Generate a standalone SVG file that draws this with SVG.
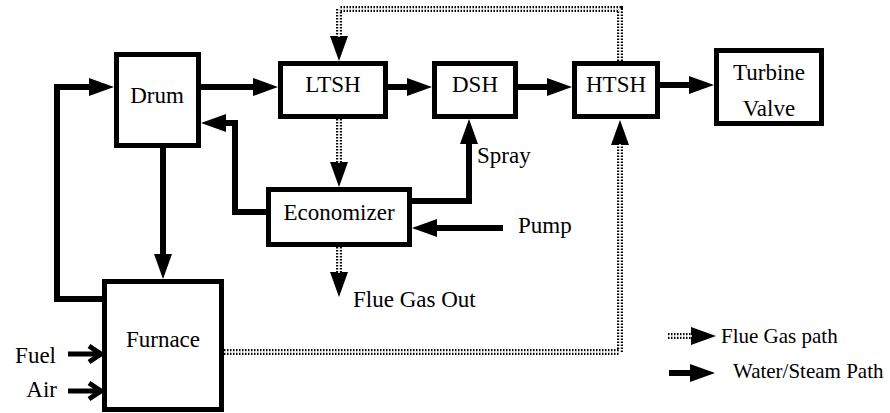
<svg xmlns="http://www.w3.org/2000/svg" width="890" height="413" viewBox="0 0 890 413">
<style>
.box{fill:#fff;stroke:#000;stroke-width:5}
.t{font-family:"Liberation Serif","Times New Roman",serif;font-size:23px;fill:#000}
.lg{font-family:"Liberation Serif","Times New Roman",serif;font-size:21px;fill:#000}
.w{fill:none;stroke:#000;stroke-width:6;marker-end:url(#ah)}
.g{fill:none;stroke:#000;stroke-width:6;stroke-dasharray:1.5 1.5;marker-end:url(#ah)}
.gc{fill:none;stroke:#fff;stroke-width:1.6}
.open{fill:none;stroke:#000;stroke-width:5}
</style>
<defs>
<marker id="ah" markerUnits="userSpaceOnUse" viewBox="0 0 25 18" refX="1" refY="9" markerWidth="25" markerHeight="18" orient="auto">
<path d="M0,0 L25,9 L0,18 z" fill="#000"/>
</marker>
</defs>
<g id="connectors">
<path class="w" d="M102,299 H57 V87 H90"/>
<path class="w" d="M201,87 H254"/>
<path class="w" d="M388,87 H408"/>
<path class="w" d="M518,87 H548"/>
<path class="w" d="M660,85 H690"/>
<path class="w" d="M163,148 V255"/>
<path class="w" d="M266,212 H235 V123 H225"/>
<path class="w" d="M412,201 H469 V143"/>
<path class="w" d="M503,228 H436"/>
<path class="g" d="M224,352 H620 V144"/>
<path class="gc" d="M224,352 H620 V144"/>
<path class="g" d="M620,61 V9 H339 V37"/>
<path class="gc" d="M620,61 V9 H339 V37"/>
<path class="g" d="M339,119 V163"/>
<path class="gc" d="M339,119 V163"/>
<path class="g" d="M339,247 V273"/>
<path class="gc" d="M339,247 V273"/>
<path class="open" d="M68,354 H100 M89,346 L101,354 L89,362"/>
<path class="open" d="M68,391 H100 M89,383 L101,391 L89,399"/>
</g>
<g id="drum"><rect class="box" x="116.5" y="54.5" width="82" height="91"/><text class="t" x="157" y="103" text-anchor="middle">Drum</text></g>
<g id="ltsh"><rect class="box" x="280.5" y="63.5" width="105" height="53"/><text class="t" x="333" y="92" text-anchor="middle">LTSH</text></g>
<g id="dsh"><rect class="box" x="434.5" y="63.5" width="81" height="53"/><text class="t" x="475" y="92" text-anchor="middle">DSH</text></g>
<g id="htsh"><rect class="box" x="574.5" y="63.5" width="83" height="53"/><text class="t" x="616" y="92" text-anchor="middle">HTSH</text></g>
<g id="turbine"><rect class="box" x="716.5" y="50.5" width="105" height="73"/><text class="t" x="769" y="80" text-anchor="middle">Turbine</text><text class="t" x="769" y="116" text-anchor="middle">Valve</text></g>
<g id="economizer"><rect class="box" x="268.5" y="189.5" width="141" height="55"/><text class="t" x="339" y="220" text-anchor="middle">Economizer</text></g>
<g id="furnace"><rect class="box" x="104.5" y="281.5" width="117" height="128"/><text class="t" x="163" y="347" text-anchor="middle">Furnace</text></g>
<g id="labels">
<text class="t" x="477" y="163">Spray</text>
<text class="t" x="518" y="233">Pump</text>
<text class="t" x="353" y="307">Flue Gas Out</text>
<text class="t" x="56" y="363" text-anchor="end">Fuel</text>
<text class="t" x="57" y="397" text-anchor="end">Air</text>
</g>
<g id="legend">
<path class="g" d="M668,336 H692"/>
<path class="gc" d="M668,336 H692"/>
<text class="lg" x="721" y="343">Flue Gas path</text>
<path class="w" d="M669,373 H691"/>
<text class="lg" x="733" y="378">Water/Steam Path</text>
</g>
</svg>
